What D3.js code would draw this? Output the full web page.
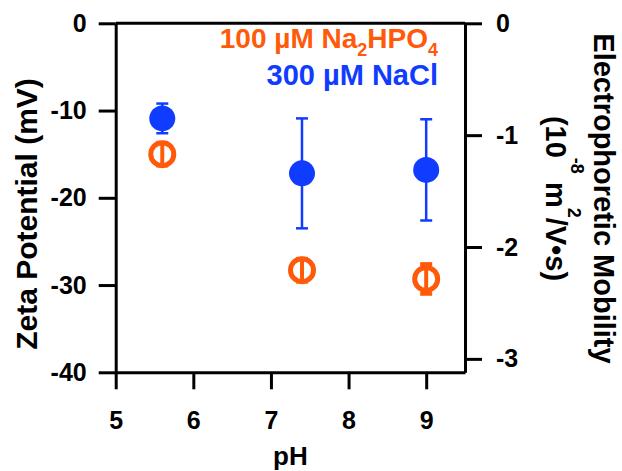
<!DOCTYPE html>
<html>
<head>
<meta charset="utf-8">
<script src="https://cdn.jsdelivr.net/npm/d3@7"></script>
<style>
  body { margin: 0; background: #fff; }
  svg text { font-family: "Liberation Sans", Arial, sans-serif; font-weight: bold; }
</style>
</head>
<body>
<div id="chart"></div>
<script>
// pH values measured
const phValues = [5.6, 7.4, 9.0];

// 300 uM NaCl (filled blue)
const naclZeta = [-10.9, -17.2, -16.8];
const naclErr = [1.7, 6.3, 5.8];

// 100 uM Na2HPO4 (open orange)
const phosZeta = [-15.0, -28.3, -29.3];
const phosErr = [1.3, 1.3, 1.7];

const xTicks = [5, 6, 7, 8, 9];
const zetaTicks = [0, -10, -20, -30, -40];
const mobilityTicks = [0, -1, -2, -3];

// 1e-8 m^2/Vs of mobility is ~12.82 mV of zeta potential (Smoluchowski)
const mvPerMobility = 12.82;

const blue = "#0f3cff";
const orange = "#ff5a0a";

const width = 622;
const height = 471;
const margin = {top: 23.3, right: 157, bottom: 98.7, left: 115.7};

const svg = d3.select("#chart").append("svg")
    .attr("width", width)
    .attr("height", height);

const x = d3.scaleLinear()
    .domain([5, 9.5])
    .range([margin.left, width - margin.right]);

const yZeta = d3.scaleLinear()
    .domain([-40, 0])
    .range([height - margin.bottom, margin.top]);

const yMob = d3.scaleLinear()
    .domain([-40 / mvPerMobility, 0])
    .range([height - margin.bottom, margin.top]);

const fmt = function (d) {
    return String(d);
};

function styleAxis(g) {
    g.selectAll("path, line")
        .attr("stroke", "#000")
        .attr("stroke-width", 3);
    g.selectAll("text")
        .attr("fill", "#000")
        .style("font-size", "25px")
        .style("font-weight", "bold")
        .attr("font-family", null);
}

// top frame line
svg.append("line")
    .attr("x1", x(5)).attr("x2", x(9.5))
    .attr("y1", yZeta(0)).attr("y2", yZeta(0))
    .attr("stroke", "#000")
    .attr("stroke-width", 3);

svg.append("g")
    .attr("transform", "translate(" + x(5) + ",0)")
    .call(d3.axisLeft(yZeta).tickValues(zetaTicks).tickFormat(fmt)
        .tickSize(17).tickSizeOuter(0).tickPadding(12))
    .call(styleAxis);

svg.append("g")
    .attr("transform", "translate(" + x(9.5) + ",0)")
    .call(d3.axisRight(yMob).tickValues(mobilityTicks).tickFormat(fmt)
        .tickSize(17).tickSizeOuter(0).tickPadding(14))
    .call(styleAxis);

svg.append("g")
    .attr("transform", "translate(0," + yZeta(-40) + ")")
    .call(d3.axisBottom(x).tickValues(xTicks).tickFormat(fmt)
        .tickSize(17).tickSizeOuter(0).tickPadding(22))
    .call(styleAxis);

// axis titles
svg.append("text")
    .attr("transform", "translate(37," + 214 + ") rotate(-90)")
    .attr("text-anchor", "middle")
    .style("font-size", "30px")
    .text("Zeta Potential (mV)");

svg.append("text")
    .attr("x", (x(5) + x(9.5)) / 2)
    .attr("y", 465)
    .attr("text-anchor", "middle")
    .style("font-size", "26px")
    .text("pH");

const rightTitle = svg.append("g")
    .attr("transform", "translate(594," + 198.5 + ") rotate(90)");

rightTitle.append("text")
    .attr("text-anchor", "middle")
    .style("font-size", "29px")
    .text("Electrophoretic Mobility");

const unit = rightTitle.append("text")
    .attr("y", 48)
    .attr("text-anchor", "middle")
    .style("font-size", "29px");
unit.append("tspan").text("(10");
unit.append("tspan").attr("dy", -25).style("font-size", "18px").text("-8");
unit.append("tspan").attr("dy", 25).text(" m");
unit.append("tspan").attr("dy", -22).style("font-size", "18px").text("2");
unit.append("tspan").attr("dy", 22).text("/V\u2022s)");

// legend
const leg1 = svg.append("text")
    .attr("x", 438).attr("y", 48)
    .attr("text-anchor", "end")
    .attr("fill", orange)
    .style("font-size", "28px");
leg1.append("tspan").text("100 \u00b5M Na");
leg1.append("tspan").attr("dy", 8).style("font-size", "18px").text("2");
leg1.append("tspan").attr("dy", -8).text("HPO");
leg1.append("tspan").attr("dy", 8).style("font-size", "18px").text("4");

svg.append("text")
    .attr("x", 438).attr("y", 85)
    .attr("text-anchor", "end")
    .attr("fill", blue)
    .style("font-size", "29px")
    .text("300 \u00b5M NaCl");

// error bars + markers
function drawSeries(vals, errs, color, barWidth, filled) {
    const g = svg.append("g");
    const bars = g.selectAll(".bar")
        .data(phValues.map(function (p, i) { return {p: p, v: vals[i], e: errs[i]}; }))
        .enter().append("g");

    bars.append("line")
        .attr("x1", function (d) { return x(d.p); })
        .attr("x2", function (d) { return x(d.p); })
        .attr("y1", function (d) { return yZeta(d.v + d.e); })
        .attr("y2", function (d) { return yZeta(d.v - d.e); })
        .attr("stroke", color).attr("stroke-width", barWidth);

    [1, -1].forEach(function (s) {
        bars.append("line")
            .attr("x1", function (d) { return x(d.p) - 6; })
            .attr("x2", function (d) { return x(d.p) + 6; })
            .attr("y1", function (d) { return yZeta(d.v + s * d.e); })
            .attr("y2", function (d) { return yZeta(d.v + s * d.e); })
            .attr("stroke", color).attr("stroke-width", barWidth);
    });

    bars.append("circle")
        .attr("cx", function (d) { return x(d.p); })
        .attr("cy", function (d) { return yZeta(d.v); })
        .attr("r", filled ? 13 : 11.5)
        .attr("fill", filled ? color : "none")
        .attr("stroke", color)
        .attr("stroke-width", filled ? 0 : 5);
}

drawSeries(phosZeta, phosErr, orange, 4, false);
drawSeries(naclZeta, naclErr, blue, 2.5, true);
</script>
</body>
</html>
